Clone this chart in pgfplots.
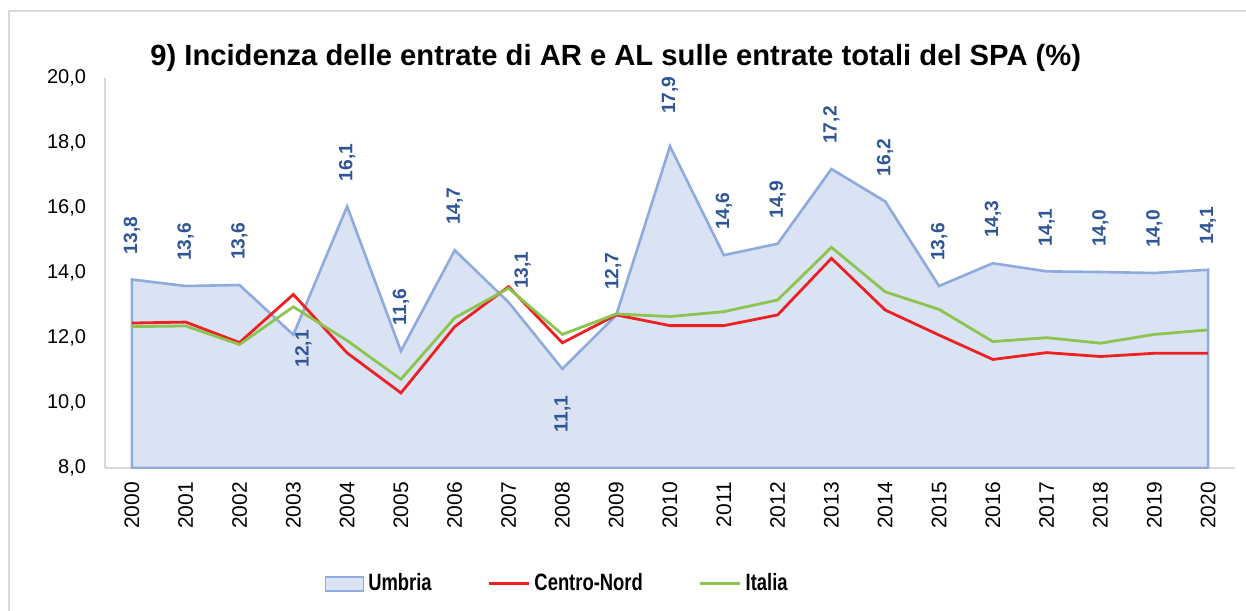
\documentclass[border=0pt]{standalone}
\usepackage{fontspec}
\setmainfont{Liberation Sans}
\newfontfamily\legfont{Liberation Sans}[FakeStretch=0.78]
\usepackage{pgfplots}
\pgfplotsset{compat=1.18}
\usepackage{pgfplotstable}

\definecolor{umfill}{RGB}{218,227,243}
\definecolor{umline}{RGB}{143,170,220}
\definecolor{umlab}{RGB}{47,85,151}
\definecolor{cnred}{RGB}{237,32,36}
\definecolor{itgreen}{RGB}{140,196,80}
\definecolor{framegray}{RGB}{217,217,217}

\pgfplotstableread{
x um cn it lab dx dy
0 13.8 12.46 12.35 13,8 0 22
1 13.6 12.49 12.37 13,6 0 22
2 13.63 11.86 11.80 13,6 0 22
3 12.1 13.34 12.96 12,1 5 -7
4 16.05 11.54 11.92 16,1 0 22
5 11.6 10.31 10.73 11,6 0 22
6 14.7 12.35 12.62 14,7 0 22
7 13.1 13.58 13.53 13,1 7 16
8 11.05 11.85 12.11 11,1 0 -22.5
9 12.7 12.71 12.74 12,7 -1.5 22
10 17.9 12.38 12.66 17,9 0 25.5
11 14.55 12.38 12.81 14,6 0 22
12 14.9 12.71 13.17 14,9 0 22
13 17.2 14.45 14.79 17,2 0 22
14 16.2 12.86 13.42 16,2 0 22
15 13.6 12.09 12.88 13,6 0 22
16 14.3 11.34 11.89 14,3 0 22
17 14.05 11.55 12.01 14,1 0 22
18 14.03 11.43 11.84 14,0 0 22
19 14.0 11.53 12.11 14,0 0 22
20 14.1 11.53 12.25 14,1 0 22
}\data

\begin{document}
\begin{tikzpicture}
\useasboundingbox (-52.5pt,-71pt) rectangle (570.5pt,234pt);
\draw[framegray, line width=1pt] (-48pt,-80pt) -- (-48pt,228.5pt) -- (580pt,228.5pt);
\begin{axis}[
  scale only axis,
  width=565pt, height=195pt,
  xmin=-0.5, xmax=20.5,
  ymin=8, ymax=20,
  ytick={8,10,...,20},
  xtick={0,...,20},
  xticklabels={2000,2001,2002,2003,2004,2005,2006,2007,2008,2009,2010,2011,2012,2013,2014,2015,2016,2017,2018,2019,2020},
  axis x line*=bottom,
  axis y line*=left,
  axis line style={framegray, line width=0.8pt, -},
  major tick length=0pt,
  /pgf/number format/.cd, use comma, fixed, fixed zerofill, precision=1, assume math mode=true,
  /pgfplots/.cd,
  yticklabel style={anchor=east, inner sep=0pt, outer xsep=9.5pt, font=\fontsize{10}{12}\selectfont},
  xticklabel style={rotate=90, anchor=east, inner sep=0pt, outer xsep=7pt, font=\fontsize{10.5}{12}\selectfont},
  clip mode=individual,
  legend columns=3,
  legend style={at={(axis description cs:0.401,-0.297)}, anchor=center, draw=none, fill=none,
    font=\legfont\bfseries\fontsize{11.8}{13}\selectfont,
    nodes={inner xsep=2pt, inner ysep=1pt},
    /tikz/every even column/.append style={column sep=26pt}},
]
\addplot[fill=umfill, draw=umline, line width=1.3pt,
  legend image code/.code={\draw[fill=umfill, draw=umline, line width=0.8pt] (0pt,-3.5pt) rectangle (19pt,3.5pt);}]
  table[x=x, y=um]{\data} \closedcycle;
\addlegendentry{Umbria}
\addplot[cnred, line width=1.4pt, mark=none,
  legend image code/.code={\draw[cnred, line width=1.4pt] (0pt,0pt) -- (20pt,0pt);}]
  table[x=x, y=cn]{\data};
\addlegendentry{Centro-Nord}
\addplot[itgreen, line width=1.4pt, mark=none,
  legend image code/.code={\draw[itgreen, line width=1.4pt] (0pt,0pt) -- (20pt,0pt);}]
  table[x=x, y=it]{\data};
\addlegendentry{Italia}
\addplot[draw=none, mark=none, forget plot,
  nodes near coords, point meta=explicit symbolic,
  visualization depends on={\thisrow{dx} \as \dx},
  visualization depends on={\thisrow{dy} \as \dy},
  every node near coord/.append style={anchor=center, xshift=\dx pt, yshift=\dy pt, rotate=90,
    font=\bfseries\fontsize{9.6}{11}\selectfont, text=umlab, inner sep=0pt}]
  table[x=x, y=um, meta=lab]{\data};
\node[font=\bfseries\fontsize{14.6}{17}\selectfont] at (axis description cs:0.452,1.051)
  {9) Incidenza delle entrate di AR e AL sulle entrate totali del SPA (\%)};
\end{axis}
\end{tikzpicture}
\end{document}
